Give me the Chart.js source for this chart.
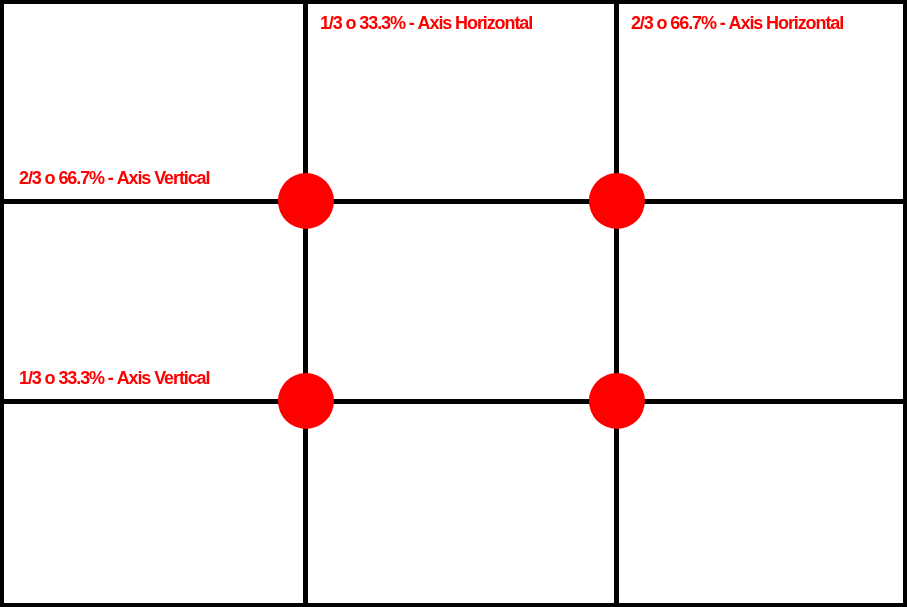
<!DOCTYPE html>
<html>
<head>
<meta charset="utf-8">
<script src="https://cdn.jsdelivr.net/npm/chart.js@4.4.1/dist/chart.umd.min.js"></script>
<style>
    html, body { margin: 0; padding: 0; background: #fff; }
    #wrap {
        width: 907px;
        height: 607px;
        box-sizing: border-box;
        border: 4px solid #000;
        position: relative;
    }
</style>
</head>
<body>
<div id="wrap"><canvas id="thirdsChart"></canvas></div>
<script>
// rule of thirds: gridlines at 1/3 and 2/3 of each axis
const thirds = [1, 2];
const verticalLabels = ['1/3 o 33.3% - Axis Vertical', '2/3 o 66.7% - Axis Vertical'];
const horizontalLabels = ['1/3 o 33.3% - Axis Horizontal', '2/3 o 66.7% - Axis Horizontal'];

// the four power points where the lines cross
const puntos = [];
thirds.forEach(x => {
    thirds.forEach(y => {
        puntos.push({ x: x, y: y });
    });
});

const rojo = 'rgb(255, 0, 0)';

const labelsPlugin = {
    id: 'thirdLabels',
    afterDatasetsDraw(chart) {
        const { ctx, chartArea, scales } = chart;
        ctx.save();
        ctx.fillStyle = rojo;
        ctx.font = 'bold 18px "Liberation Sans", Arial, sans-serif';
        ctx.letterSpacing = '-1.1px';
        ctx.textAlign = 'left';
        ctx.textBaseline = 'alphabetic';

        thirds.forEach((v, i) => {
            const y = scales.y.getPixelForValue(v);
            ctx.fillText(verticalLabels[i], chartArea.left + 15, y - 17);
        });
        thirds.forEach((v, i) => {
            const x = scales.x.getPixelForValue(v);
            ctx.fillText(horizontalLabels[i], x + 14, chartArea.top + 25);
        });
        ctx.restore();
    }
};

const gridOpts = {
    color: '#000',
    lineWidth: 5,
    drawTicks: false
};

new Chart(document.getElementById('thirdsChart'), {
    type: 'scatter',
    data: {
        datasets: [
            {
                label: 'Puntos',
                data: puntos,
                backgroundColor: rojo,
                borderWidth: 0,
                pointRadius: 28,
                pointHoverRadius: 28
            }
        ]
    },
    options: {
        responsive: true,
        maintainAspectRatio: false,
        animation: false,
        events: [],
        layout: { padding: 0, autoPadding: false },
        plugins: {
            legend: { display: false },
            tooltip: { enabled: false }
        },
        scales: {
            x: {
                type: 'linear',
                min: 0.029,
                max: 2.92,
                grid: gridOpts,
                border: { display: false },
                ticks: { display: false },
                afterBuildTicks: scale => {
                    scale.ticks = thirds.map(v => ({ value: v }));
                }
            },
            y: {
                type: 'linear',
                min: -0.01,
                max: 2.985,
                grid: gridOpts,
                border: { display: false },
                ticks: { display: false },
                afterBuildTicks: scale => {
                    scale.ticks = thirds.map(v => ({ value: v }));
                }
            }
        }
    },
    plugins: [labelsPlugin]
});
</script>
</body>
</html>
